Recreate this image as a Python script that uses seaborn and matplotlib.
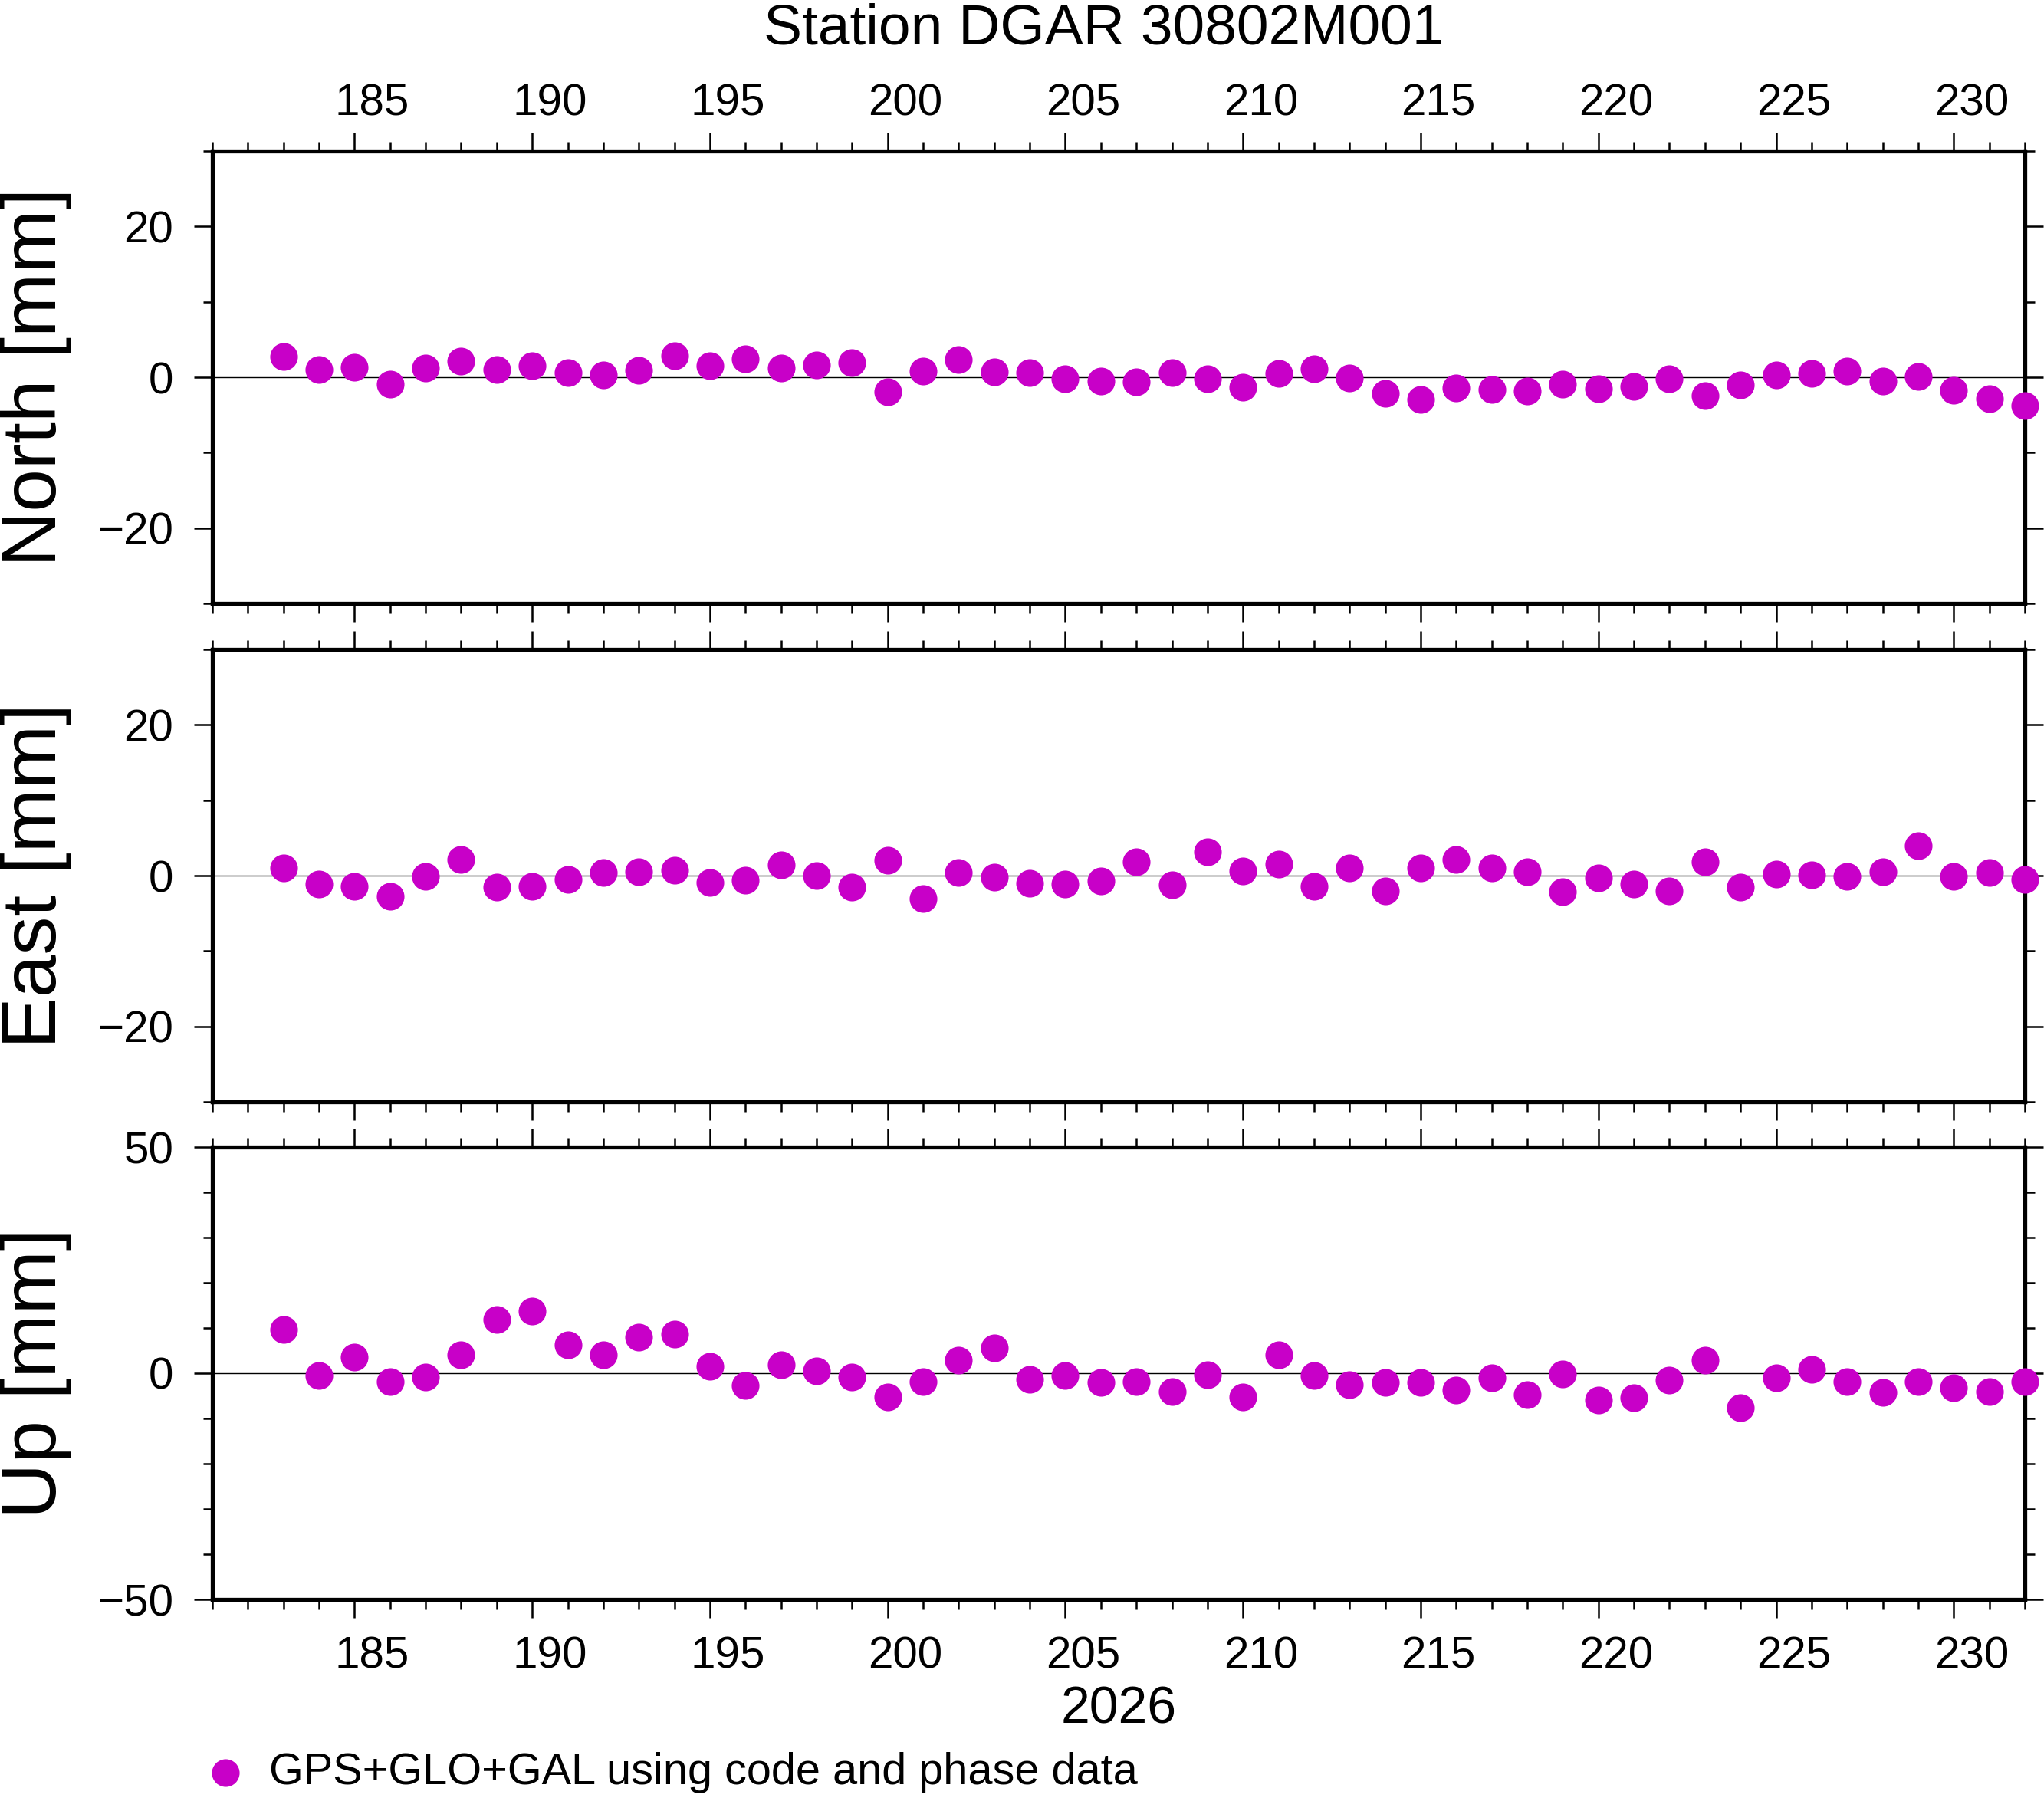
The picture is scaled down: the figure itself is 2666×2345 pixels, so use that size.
import numpy as np
import pandas as pd
import seaborn as sns
import matplotlib.pyplot as plt
from matplotlib.ticker import MultipleLocator

# chart texts
title = 'Station DGAR 30802M001'
year_label = '2026'
legend_label = 'GPS+GLO+GAL using code and phase data'

# day of year for every daily solution
doy = list(range(183, 233))

# residuals in mm
north = [2.7, 1.0, 1.3, -0.9, 1.2, 2.1, 1.0, 1.5, 0.6, 0.3,
         0.9, 2.8, 1.5, 2.4, 1.2, 1.6, 1.9, -1.9, 0.8, 2.3,
         0.7, 0.6, -0.2, -0.5, -0.6, 0.6, -0.2, -1.3, 0.5, 1.1,
         -0.1, -2.1, -2.9, -1.4, -1.6, -1.8, -0.9, -1.5, -1.2, -0.2,
         -2.4, -1.0, 0.3, 0.5, 0.8, -0.5, 0.1, -1.7, -2.8, -3.8]
east = [1.0, -1.1, -1.4, -2.7, -0.1, 2.1, -1.5, -1.4, -0.5, 0.4,
        0.5, 0.7, -0.9, -0.6, 1.4, 0.0, -1.5, 2.0, -3.0, 0.4,
        -0.2, -1.0, -1.1, -0.7, 1.8, -1.2, 3.2, 0.6, 1.5, -1.4,
        1.0, -2.0, 1.0, 2.1, 1.0, 0.5, -2.1, -0.3, -1.1, -2.0,
        1.8, -1.5, 0.2, 0.1, -0.1, 0.5, 4.0, -0.1, 0.4, -0.5]
up = [9.6, -0.5, 3.6, -1.8, -0.8, 4.0, 11.9, 13.8, 6.2, 4.1,
      8.0, 8.7, 1.6, -2.7, 1.9, 0.5, -0.8, -5.2, -1.8, 2.9,
      5.6, -1.3, -0.5, -2.0, -1.8, -4.0, -0.3, -5.2, 4.0, -0.5,
      -2.5, -2.1, -2.1, -3.8, -1.0, -4.7, -0.1, -5.9, -5.5, -1.6,
      2.9, -7.7, -1.1, 0.9, -1.8, -4.2, -1.8, -3.3, -4.0, -1.8]

components = ['North', 'East', 'Up']
y_limits = {'North': (-30, 30), 'East': (-30, 30), 'Up': (-50, 50)}
y_major = {'North': 20, 'East': 20, 'Up': 50}

dot_color = '#c800c8'


def main():
    df = pd.DataFrame({'doy': doy, 'North': north, 'East': east, 'Up': up})

    sns.set_style('ticks')
    plt.rcParams['font.family'] = ['Liberation Sans', 'DejaVu Sans']
    # plain black like the GMT original, not seaborn's dark grey
    for key in ['text.color', 'axes.labelcolor', 'xtick.color',
                'ytick.color', 'axes.edgecolor']:
        plt.rcParams[key] = 'black'

    W, H = 2666, 2345
    fig = plt.figure(figsize=(W / 100, H / 100), dpi=100)

    # panel frames in pixels (top, bottom)
    x0, x1 = 277, 2641
    frames = [(197, 787), (847, 1437), (1496, 2086)]

    label_pos = [d + 0.5 for d in range(185, 231, 5)]
    label_txt = [str(d) for d in range(185, 231, 5)]

    axes = []
    for i, comp in enumerate(components):
        top, bot = frames[i]
        ax = fig.add_axes([x0 / W, 1 - bot / H, (x1 - x0) / W, (bot - top) / H])
        ax.axhline(0, color='black', lw=1.0, zorder=1)
        sns.scatterplot(data=df, x='doy', y=comp, ax=ax, color=dot_color,
                        s=676, linewidth=0, clip_on=False, zorder=3,
                        legend=False, label=legend_label)

        ax.set_xlim(181, 232)
        ax.set_ylim(*y_limits[comp])
        ax.xaxis.set_major_locator(MultipleLocator(5))
        ax.xaxis.set_minor_locator(MultipleLocator(1))
        ax.yaxis.set_major_locator(MultipleLocator(y_major[comp]))
        ax.yaxis.set_minor_locator(MultipleLocator(10))

        ax.tick_params(axis='both', which='major', direction='out', length=17.5,
                       width=1.8, top=True, right=True, labelsize=42, pad=19)
        ax.tick_params(axis='both', which='minor', direction='out', length=9,
                       width=1.8, top=True, right=True)
        ax.tick_params(axis='x', labelbottom=False, labeltop=False)
        for sp in ax.spines.values():
            sp.set_linewidth(3.8)
            sp.set_visible(True)

        ax.set_xlabel('')
        ax.set_ylabel(f'{comp} [mm]', fontsize=72, va='baseline')
        ax.yaxis.set_label_coords((73 - x0) / (x1 - x0), 0.5)

        # day labels sit in the middle of each day, as in the original
        if i in (0, 2):
            where = 'top' if i == 0 else 'bottom'
            sec = ax.secondary_xaxis(where)
            sec.set_xticks(label_pos, labels=label_txt)
            sec.tick_params(length=0, labelsize=42, pad=25 if i == 0 else 34.5)
            for sp in sec.spines.values():
                sp.set_visible(False)
            if i == 2:
                sec.set_xlabel(year_label, fontsize=49, labelpad=7)
        axes.append(ax)

    fig.text(1440 / W, 1 - 57 / H, title, ha='center', va='baseline', fontsize=54)

    handles, labels = axes[0].get_legend_handles_labels()
    fig.legend(handles[:1], labels[:1], loc='center left',
               bbox_to_anchor=(276.5 / W, 1 - 2312 / H), frameon=False,
               fontsize=41.5, handlelength=0.6, handletextpad=0.69,
               borderpad=0, borderaxespad=0)

    fig.savefig('out.png', dpi=100)


if __name__ == '__main__':
    main()
